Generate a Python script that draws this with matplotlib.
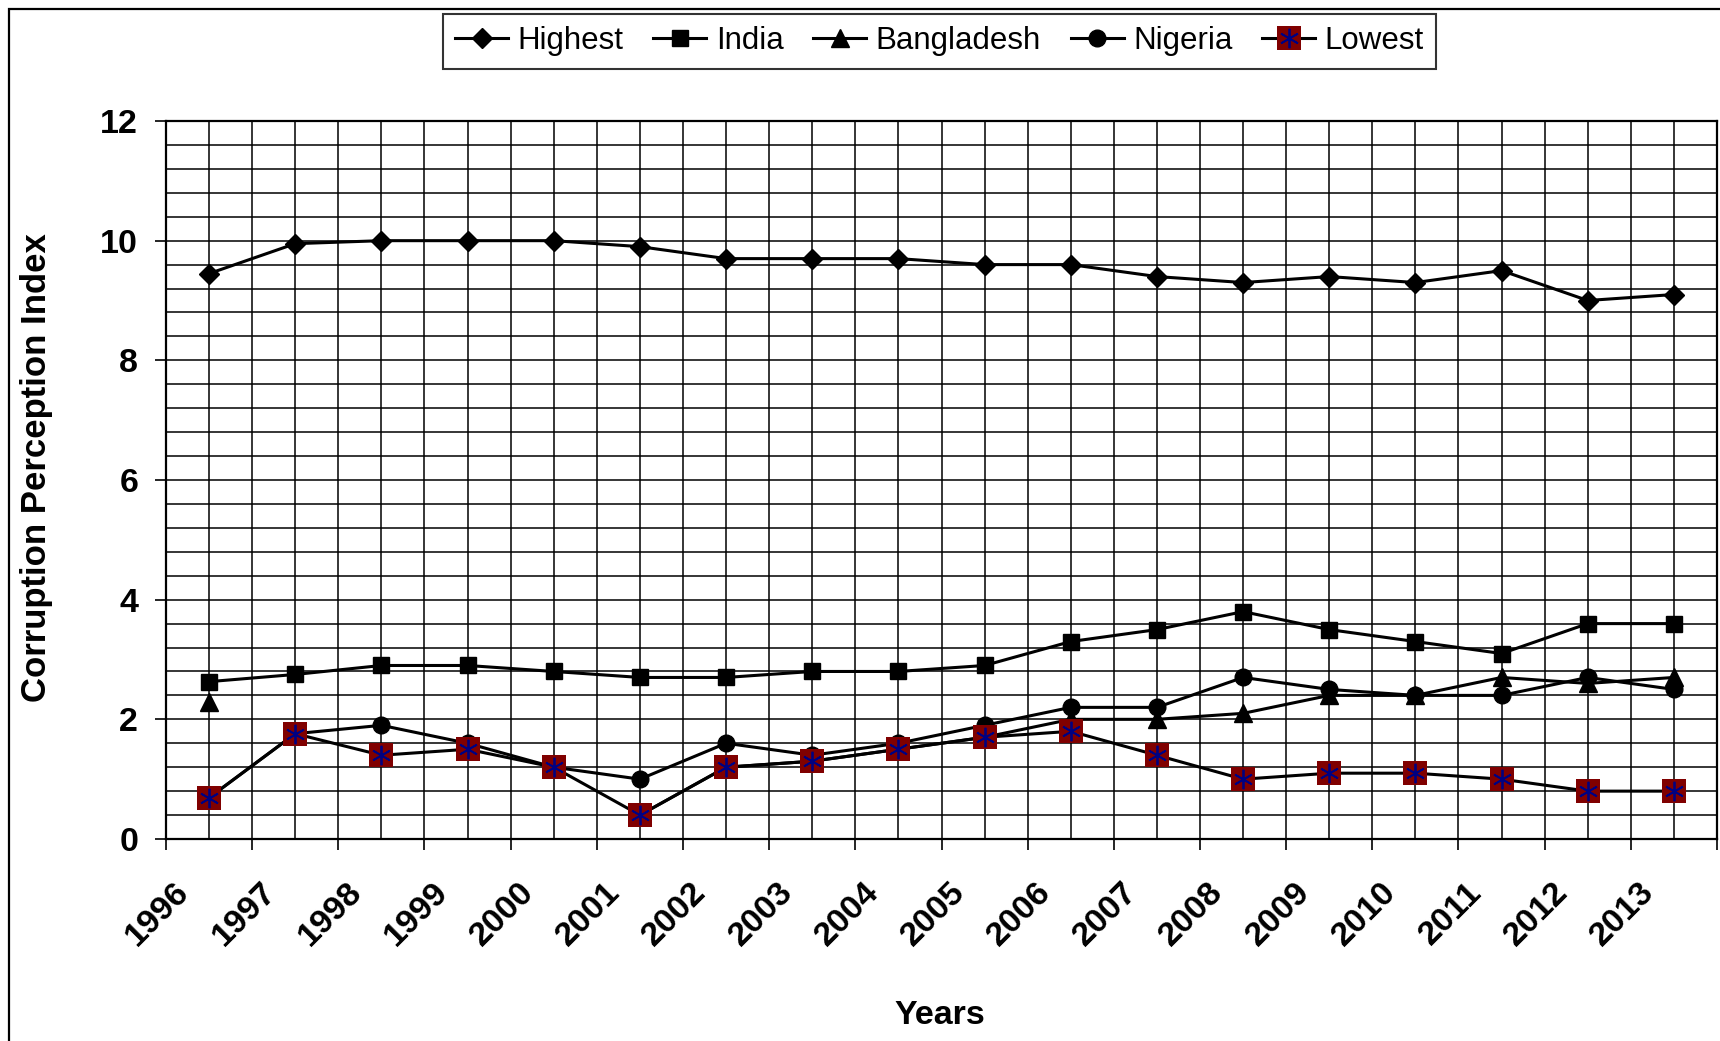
import numpy as np
import matplotlib
matplotlib.use('Agg')
import matplotlib.pyplot as plt
from matplotlib.patches import Rectangle
from matplotlib.legend_handler import HandlerTuple
import matplotlib.transforms as mtransforms

plt.rcParams['font.family'] = ['Liberation Sans', 'DejaVu Sans']

# data
years = [str(y) for y in range(1996, 2014)]
highest = [9.45, 9.95, 10.0, 10.0, 10.0, 9.9, 9.7, 9.7, 9.7, 9.6, 9.6, 9.4, 9.3, 9.4, 9.3, 9.5, 9.0, 9.1]
india = [2.63, 2.75, 2.9, 2.9, 2.8, 2.7, 2.7, 2.8, 2.8, 2.9, 3.3, 3.5, 3.8, 3.5, 3.3, 3.1, 3.6, 3.6]
bangladesh = [2.29, np.nan, np.nan, np.nan, np.nan, 0.4, 1.2, 1.3, 1.5, 1.7, 2.0, 2.0, 2.1, 2.4, 2.4, 2.7, 2.6, 2.7]
nigeria = [0.69, 1.76, 1.9, 1.6, 1.2, 1.0, 1.6, 1.4, 1.6, 1.9, 2.2, 2.2, 2.7, 2.5, 2.4, 2.4, 2.7, 2.5]
lowest = [0.69, 1.76, 1.4, 1.5, 1.2, 0.4, 1.2, 1.3, 1.5, 1.7, 1.8, 1.4, 1.0, 1.1, 1.1, 1.0, 0.8, 0.8]

W, H = 1720, 1041
fig = plt.figure(figsize=(W / 100, H / 100), dpi=100)

# outer chart border (Excel chart area), right/bottom run off the image
fig.patches.append(Rectangle((9 / W, -0.1), 1.2, 1 - 9 / H + 0.1, transform=fig.transFigure,
                             fill=False, edgecolor='black', linewidth=1.6))

ax = fig.add_axes([166 / W, (H - 839) / H, (1717 - 166) / W, (839 - 121) / H])

x = np.arange(len(years))
lw = 2.2
l1, = ax.plot(x, highest, color='black', lw=lw, marker='D', ms=10, mfc='black', mec='black', zorder=3)
l2, = ax.plot(x, india, color='black', lw=lw, marker='s', ms=11.5, mfc='black', mec='black', zorder=3)
l3, = ax.plot(x, bangladesh, color='black', lw=lw, marker='^', ms=13, mfc='black', mec='black', zorder=3)
l4, = ax.plot(x, nigeria, color='black', lw=lw, marker='o', ms=12, mfc='black', mec='black', zorder=3)
l5, = ax.plot(x, lowest, color='black', lw=lw, marker='s', ms=17, mfc='#800000', mec='#800000', mew=0, zorder=4)
l5b, = ax.plot(x, lowest, ls='none', marker=(6, 2, 0), ms=14, mec='#000080', mew=1.3, zorder=5)

ax.set_xlim(-0.5, len(years) - 0.5)
ax.set_ylim(0, 12)

# y axis: labelled every 2, grid every 0.4
ax.set_yticks(np.arange(0, 13, 2))
ax.set_yticks(np.arange(0, 12.01, 0.4), minor=True)
# x axis: ticks between categories, grid also through categories
ax.set_xticks(np.arange(-0.5, len(years), 1))
ax.set_xticklabels(years + [''], rotation=45, ha='center')
ax.set_xticks(x, minor=True)

ax.grid(True, which='both', color='black', lw=1.1)
ax.set_axisbelow(True)
ax.tick_params(which='major', length=8, width=1.2, direction='out', labelsize=24.5)
ax.tick_params(which='minor', length=0)
ax.tick_params(axis='y', pad=12)
ax.tick_params(axis='x', pad=19)
for t in ax.get_xticklabels() + ax.get_yticklabels():
    t.set_fontweight('bold')
offset = mtransforms.ScaledTranslation(-8 / 100, 0, fig.dpi_scale_trans)
for t in ax.get_xticklabels():
    t.set_transform(t.get_transform() + offset)
for s in ax.spines.values():
    s.set_linewidth(1.6)

fig.text(37 / W, 1 - 468 / H, 'Corruption Perception Index', rotation=90, ha='center', va='center',
         fontsize=25, fontweight='bold')
fig.text(940 / W, 1 - 1016 / H, 'Years', ha='center', va='center', fontsize=24.5, fontweight='bold')

leg = fig.legend([l1, l2, l3, l4, (l5, l5b)], ['Highest', 'India', 'Bangladesh', 'Nigeria', 'Lowest'],
                 handler_map={tuple: HandlerTuple(ndivide=1)},
                 loc='center', bbox_to_anchor=(939.5 / W, 1 - 41 / H), ncol=5, fontsize=22.5,
                 frameon=True, fancybox=False, edgecolor='black', numpoints=1,
                 handlelength=1.7, handletextpad=0.3, columnspacing=0.95, borderpad=0.4)
leg.get_frame().set_linewidth(1.5)

fig.savefig('out.png', dpi=100)
